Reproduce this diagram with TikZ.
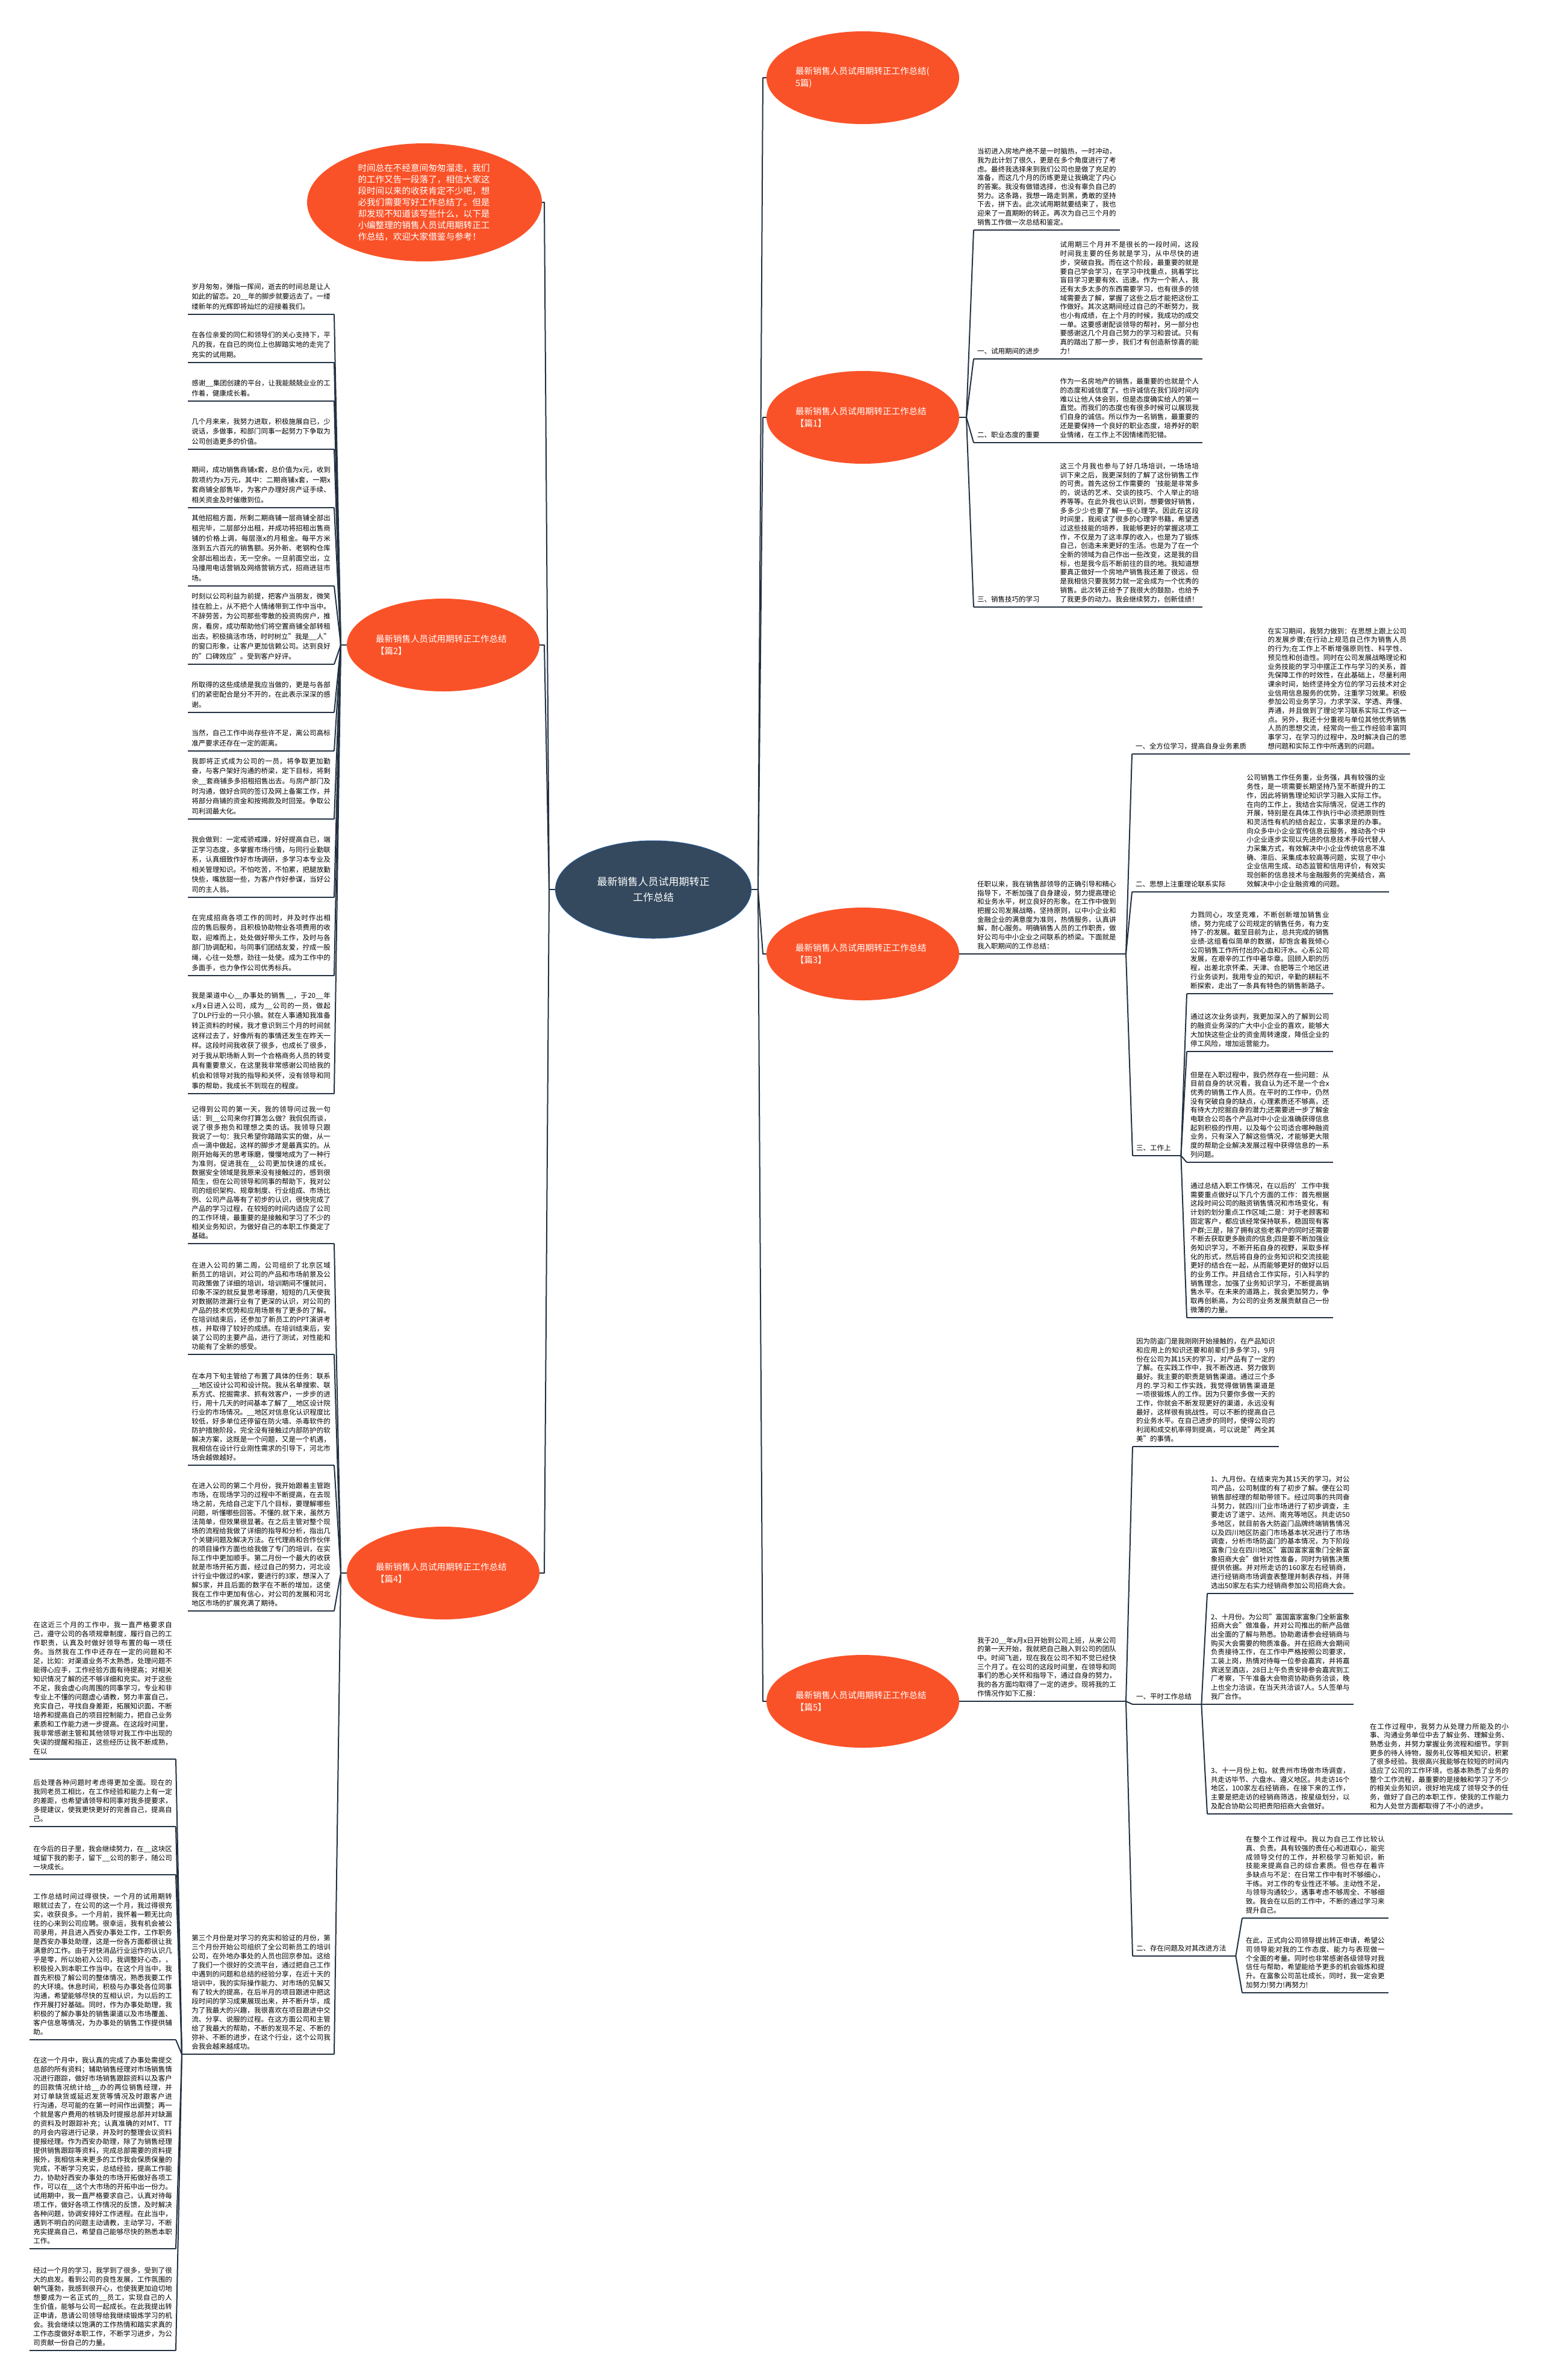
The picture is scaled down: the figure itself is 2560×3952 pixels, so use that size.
\documentclass[tikz,border=0pt]{standalone}
\usepackage{fontspec}
\setmainfont{Noto Sans CJK SC}
\XeTeXlinebreaklocale "zh"
\XeTeXlinebreakskip=0pt plus 1pt minus 0.62pt
\tolerance=3000
\usetikzlibrary{shapes.geometric}

\definecolor{petalorange}{RGB}{250,82,40}
\definecolor{rootslate}{RGB}{52,73,94}
\definecolor{rootrim}{RGB}{40,90,150}
\definecolor{wire}{RGB}{35,50,66}

\newcommand{\bodyfont}{\fontsize{11.5pt}{14.7pt}\selectfont}
\newcommand{\midfont}{\fontsize{11.5pt}{15pt}\selectfont}
\newcommand{\airyfont}{\fontsize{11.5pt}{16.6pt}\selectfont}
\newcommand{\petalfont}{\fontsize{14.5pt}{20pt}\selectfont}
\newcommand{\introfont}{\fontsize{14.6pt}{18.9pt}\selectfont}
\newcommand{\rootfont}{\fontsize{17pt}{25.7pt}\selectfont}
\newcommand{\kong}{\_\_}

\tikzset{
  link/.style={draw=wire,line width=2pt,line join=round},
  rule/.style={draw=wire,line width=2.2pt},
  para/.style={font=\bodyfont,text width=230.5pt,align=justify,inner xsep=6pt,inner ysep=7.5pt},
  sect/.style={font=\bodyfont,align=left,inner xsep=6pt,inner ysep=7.5pt},
}

\begin{document}
\begin{tikzpicture}[x=1pt,y=-1pt,
  rootnode/.style={ellipse,fill=rootslate,draw=rootrim,line width=1pt,text=white,
    minimum width=325pt,minimum height=162pt,inner sep=0pt,font=\rootfont,align=center},
  petal/.style={ellipse,fill=petalorange,text=white,minimum width=320pt,
    minimum height=154pt,inner sep=0pt,font=\petalfont,text width=224pt,align=left},
  lpara/.style={para,font=\airyfont},
  mpara/.style={para,font=\midfont}]

\fill[white] (0,0) rectangle (2560,3952);
\useasboundingbox (0,0) rectangle (2560,3952);

% centre and first ring
\node[rootnode] (root) at (1085,1477) {最新销售人员试用期转正\\工作总结};
\node[petal,minimum width=390pt,minimum height=196pt,text width=221pt,font=\introfont] (intro) at (705,336)
  {时间总在不经意间匆匆溜走，我们\\的工作又告一段落了，相信大家这\\段时间以来的收获肯定不少吧，想\\必我们需要写好工作总结了。但是\\却发现不知道该写些什么，以下是\\小编整理的销售人员试用期转正工\\作总结，欢迎大家借鉴与参考！};
\node[petal] (pianall) at (1433,129) {最新销售人员试用期转正工作总结(\\5篇)};
\node[petal] (pian1) at (1433,693) {最新销售人员试用期转正工作总结\\【篇1】};
\node[petal] (pian2) at (736,1071) {最新销售人员试用期转正工作总结\\【篇2】};
\node[petal] (pian3) at (1433,1584) {最新销售人员试用期转正工作总结\\【篇3】};
\node[petal] (pian4) at (736,2612) {最新销售人员试用期转正工作总结\\【篇4】};
\node[petal] (pian5) at (1433,2825) {最新销售人员试用期转正工作总结\\【篇5】};

\coordinate (lbus) at (912,1477);
\coordinate (rbus) at (1259,1477);
\draw[link] (root.west) -- (lbus);
\draw[link] (root.east) -- (rbus);
\foreach \k in {intro,pian2,pian4}
  \draw[link] (lbus) -- ([xshift=-8pt]lbus |- \k.east) -- (\k.east);
\foreach \k in {pianall,pian1,pian3,pian5}
  \draw[link] (rbus) -- ([xshift=8pt]rbus |- \k.west) -- (\k.west);

% pian 1
\node[para,anchor=south west] (b1i) at (1617,382) {当初进入房地产绝不是一时脑热，一时冲动，我为此计划了很久，更是在多个角度进行了考虑。最终我选择来到我们公司也是做了充足的准备，而这几个月的历练更是让我确定了内心的答案。我没有做错选择，也没有辜负自己的努力。这条路，我想一路走到黑，勇敢的坚持下去，拼下去。此次试用期就要结束了，我也迎来了一直期盼的转正。再次为自己三个月的销售工作做一次总结和鉴定。};
\node[sect,text width=125pt,anchor=south west] (t1a) at (1617,596) {一、试用期间的进步};
\node[para,anchor=south west] (b1a) at (t1a.south east) {试用期三个月并不是很长的一段时间，这段时间我主要的任务就是学习，从中尽快的进步，突破自我。而在这个阶段，最重要的就是要自己学会学习，在学习中找重点，挑着学比盲目学习更要有效、迅速。作为一个新人，我还有太多太多的东西需要学习，也有很多的领域需要去了解，掌握了这些之后才能把这份工作做好。其次这期间经过自己的不断努力，我也小有成绩，在上个月的时候，我成功的成交一单。这要感谢配谈领导的帮衬，另一部分也要感谢这几个月自己努力的学习和尝试。只有真的踏出了那一步，我们才有创造新惊喜的能力！};
\node[sect,text width=125pt,anchor=south west] (t1b) at (1617,735) {二、职业态度的重要};
\node[para,anchor=south west] (b1b) at (t1b.south east) {作为一名房地产的销售，最重要的也就是个人的态度和诚信度了。也许诚信在我们段时间内难以让他人体会到，但是态度确实给人的第一直觉。而我们的态度也有很多时候可以展现我们自身的诚信。所以作为一名销售，最重要的还是要保持一个良好的职业态度，培养好的职业情绪，在工作上不因情绪而犯错。};
\node[sect,text width=125pt,anchor=south west] (t1c) at (1617,1008) {三、销售技巧的学习};
\node[para,anchor=south west] (b1c) at (t1c.south east) {这三个月我也参与了好几场培训，一场场培训下来之后，我更深刻的了解了这份销售工作的可贵。首先这份工作需要的`技能是非常多的，说话的艺术、交谈的技巧、个人举止的培养等等。在此外我也认识到，想要做好销售，多多少少也要了解一些心理学。因此在这段时间里，我阅读了很多的心理学书籍，希望透过这些技能的培养，我能够更好的掌握这项工作，不仅是为了这丰厚的收入，也是为了锻炼自己，创造未来更好的生活。也是为了在一个全新的领域为自己作出一些改变，这是我的目标，也是我今后不断前往的目的地。我知道想要真正做好一个房地产销售我还差了很远，但是我相信只要我努力就一定会成为一个优秀的销售。此次转正给予了我很大的鼓励，也给予了我更多的动力。我会继续努力，创新佳绩！};
\coordinate (f1) at (1605,693);
\draw[link] (pian1.east) -- (f1);
\foreach \k in {b1i,t1a,t1b,t1c}
  \draw[link] (f1) -- (\k.south west);

% pian 3
\node[para,anchor=south west] (b3i) at (1617,1584) {任职以来，我在销售部领导的正确引导和精心指导下，不断加强了自身建设，努力提高理论和业务水平，树立良好的形象。在工作中做到把握公司发展战略，坚持原则，以中小企业和金融企业的满意度为准则，热情服务，认真讲解，耐心服务。明确销售人员的工作职责，做好公司与中小企业之间联系的桥梁。下面就是我入职期间的工作总结：};
\node[sect,text width=207pt,anchor=south west] (t3a) at (1880,1252) {一、全方位学习，提高自身业务素质};
\node[para,anchor=south west] (b3a) at (t3a.south east) {在实习期间，我努力做到：在思想上跟上公司的发展步骤;在行动上规范自己作为销售人员的行为;在工作上不断增强原则性、科学性、预见性和创造性。同时在公司发展战略理论和业务技能的学习中摆正工作与学习的关系，首先保障工作的时效性，在此基础上，尽量利用课余时间，始终坚持全方位的学习云技术对企业信用信息服务的优势，注重学习效果。积极参加公司业务学习，力求学深、学透、弄懂、弄通，并且做到了理论学习联系实际工作这一点。另外，我还十分重视与单位其他优秀销售人员的思想交流，经常向一些工作经验丰富同事学习，在学习的过程中，及时解决自己的思想问题和实际工作中所遇到的问题。};
\node[sect,text width=172pt,anchor=south west] (t3b) at (1880,1481) {二、思想上注重理论联系实际};
\node[para,anchor=south west] (b3b) at (t3b.south east) {公司销售工作任务重，业务强，具有较强的业务性，是一项需要长期坚持乃至不断提升的工作，因此将销售理论知识学习融入实际工作。在向的工作上，我结合实际情况，促进工作的开展，特别是在具体工作执行中必须把原则性和灵活性有机的结合起立，实事求是的办事。向众多中小企业宣传信息云服务，推动各个中小企业逐步实现以先进的信息技术手段代替人力采集方式，有效解决中小企业传统信息不准确、滞后、采集成本较高等问题，实现了中小企业信用生成、动态监管和信用评价，有效实现创新的信息技术与金融服务的完美结合，高效解决中小企业融资难的问题。};
\node[sect,text width=68pt,anchor=south west] (t3c) at (1881,1919) {三、工作上};
\node[para,anchor=south west] (c3a) at (1971,1650) {力戮同心，攻坚克难，不断创新增加销售业绩，努力完成了公司规定的销售任务，有力支持了-的发展。截至目前为止，总共完成的销售业绩-这组看似简单的数据，却饱含着我倾心公司销售工作所付出的心血和汗水。心系公司发展，在艰辛的工作中著华章。回顾入职的历程，出差北京怀柔、天津、合肥等三个地区进行业务谈判，我用专业的知识，辛勤的耕耘不断探索，走出了一条具有特色的销售新路子。};
\node[para,anchor=south west] (c3b) at (1971,1746) {通过这次业务谈判，我更加深入的了解到公司的融资业务深的广大中小企业的喜欢，能够大大加快这些企业的资金周转速度，降低企业的停工风险，增加运营能力。};
\node[para,anchor=south west] (c3c) at (1971,1930) {但是在入职过程中，我仍然存在一些问题：从目前自身的状况看，我自认为还不是一个合x优秀的销售工作人员。在平时的工作中，仍然没有突破自身的缺点，心理素质还不够高，还有待大力挖掘自身的潜力;还需要进一步了解金电联合公司各个产品对中小企业准确获得信息起到积极的作用，以及每个公司适合哪种融资业务，只有深入了解这些情况，才能够更大限度的帮助企业解决发展过程中获得信息的一系列问题。};
\node[para,anchor=south west] (c3d) at (1971,2188) {通过总结入职工作情况，在以后的'工作中我需要重点做好以下几个方面的工作：首先根据这段时间公司的融资销售情况和市场变化，有计划的划分重点工作区域;二是：对于老顾客和固定客户，都应该经常保持联系，稳固现有客户群;三是，除了拥有这些老客户的同时还需要不断去获取更多融资的信息;四是要不断加强业务知识学习，不断开拓自身的视野，采取多样化的形式，然后将自身的业务知识和交流技能更好的结合在一起，从而能够更好的做好以后的业务工作。并且结合工作实际，引入科学的销售理念，加强了业务知识学习，不断提高销售水平。在未来的道路上，我会更加努力，争取再创新高，为公司的业务发展贡献自己一份微薄的力量。};
\coordinate (f3) at (1870,1584);
\draw[link] (pian3.east) -- (b3i.south west);
\draw[link] (b3i.south east) -- (f3);
\foreach \k in {t3a,t3b,t3c}
  \draw[link] (f3) -- (\k.south west);
\foreach \k in {c3a,c3b,c3c,c3d}
  \draw[link] (t3c.south east) -- (\k.south west);

% pian 5
\node[para,anchor=south west] (b5i) at (1617,2825) {我于20\kong 年x月x日开始到公司上班，从来公司的第一天开始，我就把自己融入到公司的团队中。时间飞逝，现在我在公司不知不觉已经快三个月了。在公司的这段时间里，在领导和同事们的悉心关怀和指导下，通过自身的努力，我的各方面均取得了一定的进步。现将我的工作情况作如下汇报：};
\node[para,anchor=south west] (b5x) at (1881,2402) {因为防盗门是我刚刚开始接触的，在产品知识和应用上的知识还要和前辈们多多学习，9月份在公司为其15天的学习，对产品有了一定的了解。在实践工作中，我不断改进、努力做到最好。我主要的职责是销售渠道。通过三个多月的.学习和工作实践，我觉得做销售渠道是一项很锻炼人的工作。因为只要你多做一天的工作，你就会不断发现更好的渠道，永远没有最好，这样很有挑战性。可以不断的提高自己的业务水平。在自己进步的同时，使得公司的利润和成交机率得到提高，可以说是"两全其美"的事情。};
\node[sect,text width=102pt,anchor=south west] (t5a) at (1881,2830) {一、平时工作总结};
\node[para,anchor=south west] (d5a) at (2005,2646) {1、九月份。在结束完为其15天的学习。对公司产品，公司制度的有了初步了解。便在公司销售部经理的帮助带领下。经过同事的共同奋斗努力，就四川门业市场进行了初步调查，主要走访了遂宁、达州、南充等地区。共走访50多地区，就目前各大防盗门品牌终端销售情况以及四川地区防盗门市场基本状况进行了市场调查，分析市场防盗门的基本情况，为下阶段富象门业在四川地区"富国富家富象门全新富象招商大会"做针对性准备，同时为销售决策提供依据。并对所走访的160家左右经销商，进行经销商市场调查表整理并制表存档，并筛选出50家左右实力经销商参加公司招商大会。};
\node[para,anchor=south west] (d5b) at (2005,2830) {2、十月份。为公司"富国富家富象门全新富象招商大会"做准备，并对公司推出的新产品做出全面的了解与熟悉。协助邀请参会经销商与购买大会需要的物质准备。并在招商大会期间负责接待工作，在工作中严格按照公司要求，工装上岗，热情对待每一位参会嘉宾，并将嘉宾送至酒店，28日上午负责安排参会嘉宾到工厂考察，下午准备大会物资协助商务洽谈，晚上也全力洽谈，在当天共洽谈7人。5人签单与我厂合作。};
\node[para,anchor=south west] (d5c) at (2005,3012) {3、十一月份上旬。就贵州市场做市场调查，共走访毕节、六盘水、遵义地区。共走访16个地区，100家左右经销商，在接下来的工作，主要是把走访的经销商筛选，按星级划分，以及配合协助公司把贵阳招商大会做好。};
\node[para,anchor=south west] (d5x) at (2269,3012) {在工作过程中，我努力从处理力所能及的小事、沟通业务单位中去了解业务、理解业务、熟悉业务，并努力掌握业务流程和细节。学到更多的待人待物，服务礼仪等相关知识，积累了很多经验。我很高兴我能够在较短的时间内适应了公司的工作环境，也基本熟悉了业务的整个工作流程，最重要的是接触和学习了不少的相关业务知识，很好地完成了领导交予的任务，做好了自己的本职工作，使我的工作能力和为人处世方面都取得了不小的进步。};
\node[sect,text width=159pt,anchor=south west] (t5b) at (1881,3248) {二、存在问题及对其改进方法};
\node[para,anchor=south west] (e5a) at (2063,3185) {在整个工作过程中。我以为自己工作比较认真、负责。具有较强的责任心和进取心，能完成领导交付的工作，并积极学习新知识，新技能来提高自己的综合素质。但也存在着许多缺点与不足：在日常工作中有时不够细心，干练。对工作的专业性还不够。主动性不足，与领导沟通较少，遇事考虑不够周全、不够细致。我会在以后的工作中，不断的通过学习来提升自己。};
\node[para,anchor=south west] (e5b) at (2063,3309) {在此，正式向公司领导提出转正申请，希望公司领导能对我的工作态度、能力与表现做一个全面的考量。同时也非常感谢各级领导对我信任与帮助，希望能给予更多的机会锻炼和提升。在富象公司茁壮成长，同时，我一定会更加努力!努力!再努力!};
\coordinate (f5) at (1870,2825);
\draw[link] (pian5.east) -- (b5i.south west);
\draw[link] (b5i.south east) -- (f5);
\foreach \k in {b5x,t5a,t5b}
  \draw[link] (f5) -- (\k.south west);
\foreach \k in {d5a,d5b,d5c}
  \draw[link] (t5a.south east) -- (\k.south west);
\draw[link] (d5c.south east) -- (d5x.south west);
\foreach \k in {e5a,e5b}
  \draw[link] (t5b.south east) -- (\k.south west);

% pian 2
\node[lpara,anchor=south east] (q2a) at (555,522) {岁月匆匆，弹指一挥间，逝去的时间总是让人如此的留恋。20\kong 年的脚步就要远去了。一缕缕新年的光辉即将灿烂的迎接着我们。};
\node[lpara,anchor=south east] (q2b) at (555,602) {在各位亲爱的同仁和领导们的关心支持下，平凡的我，在自已的岗位上也脚踏实地的走完了充实的试用期。};
\node[lpara,anchor=south east] (q2c) at (555,666) {感谢\kong 集团创建的平台，让我能兢兢业业的工作着，健康成长着。};
\node[lpara,anchor=south east] (q2d) at (555,746) {几个月来来，我努力进取，积极施展自已，少说话，多做事，和部门同事一起努力下争取为公司创造更多的价值。};
\node[lpara,anchor=south east] (q2e) at (555,843) {期间，成功销售商铺x套，总价值为x元，收到款项约为x万元，其中：二期商铺x套，一期x套商铺全部售毕，为客户办理好房产证手续、相关资金及时催缴到位。};
\node[lpara,anchor=south east] (q2f) at (555,973) {其他招租方面，所剩二期商铺一层商铺全部出租完毕，二层部分出租，并成功将招租出售商铺的价格上调，每层涨x的月租金。每平方米涨到五六百元的销售额。另外新、老钢构仓库全部出租出去，无一空余。一旦前面空出，立马撞用电话营销及网络营销方式，招商进驻市场。};
\node[lpara,anchor=south east] (q2g) at (555,1103) {时刻以公司利益为前提，把客户当朋友，微笑挂在脸上，从不把个人情绪带到工作中当中。不辞劳苦，为公司那些零散的投资购房户，推房，看房，成功帮助他们将空置商铺全部转租出去。积极搞活市场，时时树立"我是\kong 人"的窗口形象，让客户更加信赖公司。达到良好的"口碑效应"。受到客户好评。};
\node[lpara,anchor=south east] (q2h) at (555,1183) {所取得的这些成绩是我应当做的，更是与各部们的紧密配合是分不开的，在此表示深深的感谢。};
\node[lpara,anchor=south east] (q2i) at (555,1247) {当然，自己工作中尚存些许不足，离公司高标准严要求还存在一定的距离。};
\node[lpara,anchor=south east] (q2j) at (555,1360) {我即将正式成为公司的一员，将争取更加勤奋，与客户架好沟通的桥梁，定下目标，将剩余\kong 套商铺多多招租招售出去。与房产部门及时沟通，做好合同的签订及网上备案工作，并将部分商铺的资金和按揭款及时回笼。争取公司利润最大化。};
\node[lpara,anchor=south east] (q2k) at (555,1490) {我会做到：一定戒骄戒躁，好好提高自已，端正学习态度，多掌握市场行情，与同行业勤联系，认真细致作好市场调研，多学习本专业及相关管理知识。不怕吃苦，不怕累，把腿放勤快些，嘴放甜一些，为客户作好参谋，当好公司的主人翁。};
\node[lpara,anchor=south east] (q2l) at (555,1620) {在完成招商各项工作的同时，并及时作出相应的售后服务，且积极协助物业各项费用的收取，迎难而上，处处做好带头工作，及时与各部门协调配和，与同事们团结友爱，拧成一股绳，心往一处想，劲往一处使。成为工作中的多面手，也力争作公司优秀标兵。};
\node[lpara,anchor=south east] (q2m) at (555,1816) {我是渠道中心\kong 办事处的销售\kong ，于20\kong 年x月x日进入公司，成为\kong 公司的一员，做起了DLP行业的一只小狼。就在人事通知我准备转正资料的时候，我才意识到三个月的时间就这样过去了，好像所有的事情还发生在昨天一样。这段时间我收获了很多，也成长了很多，对于我从职场新人到一个合格商务人员的转变具有重要意义，在这里我非常感谢公司给我的机会和领导对我的指导和关怀，没有领导和同事的帮助，我成长不到现在的程度。};
\coordinate (f2) at (566,1071);
\draw[link] (pian2.west) -- (f2);
\foreach \k in {q2a,q2b,q2c,q2d,q2e,q2f,q2g,q2h,q2i,q2j,q2k,q2l,q2m}
  \draw[link] (f2) -- (\k.south east);

% pian 4
\node[mpara,anchor=south east] (q4a) at (555,2065) {记得到公司的第一天，我的领导问过我一句话：到\kong 公司来你打算怎么做？我侃侃而谈，说了很多抱负和理想之类的话。我领导只跟我说了一句：我只希望你踏踏实实的做，从一点一滴中做起，这样的脚步才是最真实的。从刚开始每天的思考琢磨，慢慢地成为了一种行为准则，促进我在\kong 公司更加快速的成长。数据安全领域是我原来没有接触过的，感到很陌生，但在公司领导和同事的帮助下，我对公司的组织架构、规章制度、行业组成、市场比例、公司产品等有了初步的认识，很快完成了产品的学习过程，在较短的时间内适应了公司的工作环境，最重要的是接触和学习了不少的相关业务知识，为做好自己的本职工作奠定了基础。};
\node[mpara,anchor=south east] (q4b) at (555,2249) {在进入公司的第二周，公司组织了北京区域新员工的培训，对公司的产品和市场前景及公司政策做了详细的培训，培训期间不懂就问，印象不深的就反复思考琢磨，短短的几天使我对数据防泄漏行业有了更深的认识，对公司的产品的技术优势和应用场景有了更多的了解。在培训结束后，还参加了新员工的PPT演讲考核，并取得了较好的成绩。在培训结束后，安装了公司的主要产品，进行了测试，对性能和功能有了全新的感受。};
\node[mpara,anchor=south east] (q4c) at (555,2433) {在本月下旬主管给了布置了具体的任务：联系\kong 地区设计公司和设计院。我从名单搜索、联系方式、挖掘需求、抓有效客户，一步步的进行，用十几天的时间基本了解了\kong 地区设计院行业的市场情况。\kong 地区对信息化认识程度比较低，好多单位还停留在防火墙、杀毒软件的防护措施阶段，完全没有接触过内部防护的软解决方案，这既是一个问题，又是一个机遇，我相信在设计行业刚性需求的引导下，河北市场会越做越好。};
\node[mpara,anchor=south east] (q4d) at (555,2675) {在进入公司的第二个月份，我开始跟着主管跑市场，在现场学习的过程中不断提高，在去现场之前，先给自己定下几个目标，要理解哪些问题，听懂哪些回答。不懂的.就下来，虽然方法简单，但效果很显著。在之后主管对整个现场的流程给我做了详细的指导和分析，指出几个关键问题及解决方法。在代理商和合作伙伴的项目操作方面也给我做了专门的培训，在实际工作中更加顺手。第二月份一个最大的收获就是市场开拓方面，经过自己的努力，河北设计行业中做过的4家，要进行的3家，想深入了解5家，并且后面的数字在不断的增加，这使我在工作中更加有信心，对公司的发展和河北地区市场的扩展充满了期待。};
\node[mpara,anchor=south east] (q4e) at (555,3411) {第三个月份是对学习的充实和验证的月份，第三个月份开始公司组织了全公司新员工的培训公司，在外地办事处的人员也回京参加。这给了我们一个很好的交流平台，通过把自己工作中遇到的问题和总结的经验分享，在近十天的培训中，我的实际操作能力、对市场的见解又有了较大的提高，在后半月的项目跟进中把这段时间的学习成果展现出来，并不断升华，成为了我最大的兴趣，我很喜欢在项目跟进中交流、分享、说服的过程。在这方面公司和主管给了我最大的帮助，不断的发现不足、不断的弥补、不断的进步，在这个行业，这个公司我会我会越来越成功。};
\coordinate (f4) at (566,2612);
\draw[link] (pian4.west) -- (f4);
\foreach \k in {q4a,q4b,q4c,q4d,q4e}
  \draw[link] (f4) -- (\k.south east);

% children of the third-month block
\node[mpara,anchor=south east] (r4a) at (292,2921) {在这近三个月的工作中，我一直严格要求自己，遵守公司的各项规章制度，履行自己的工作职责，认真及时做好领导布置的每一项任务。当然我在工作中还存在一定的问题和不足，比如：对渠道业务不太熟悉，处理问题不能得心应手，工作经验方面有待提高；对相关知识情况了解的还不够详细和充实。对于这些不足，我会虚心向周围的同事学习，专业和非专业上不懂的问题虚心请教，努力丰富自己，充实自己，寻找自身差距，拓展知识面，不断培养和提高自己的项目控制能力，把自己业务素质和工作能力进一步提高。在这段时间里，我非常感谢主管和其他领导对我工作中出现的失误的提醒和指正，这些经历让我不断成熟，在以};
\node[mpara,anchor=south east] (r4b) at (292,3033) {后处理各种问题时考虑得更加全面。现在的我同老员工相比，在工作经验和能力上有一定的差距，也希望请领导和同事对我多提要求，多提建议，使我更快更好的完善自己，提高自己。};
\node[mpara,anchor=south east] (r4c) at (292,3113) {在今后的日子里，我会继续努力，在\kong 这块区域留下我的影子，留下\kong 公司的影子，随公司一块成长。};
\node[mpara,anchor=south east] (r4d) at (292,3387) {工作总结时间过得很快，一个月的试用期转眼就过去了，在公司的这一个月，我过得很充实，收获良多。一个月前，我怀着一颗无比向往的心来到公司应聘。很幸运，我有机会被公司录用，并且进入西安办事处工作，工作职务是西安办事处助理，这是一份各方面都很让我满意的工作。由于对快消品行业运作的认识几乎是零，所以始初入公司，我调整好心态，，积极投入到本职工作当中。在这个月当中，我首先积极了解公司的整体情况，熟悉我要工作的大环境。休息时间，积极与办事处各位同事沟通，希望能够尽快的互相认识，为以后的工作开展打好基础。同时，作为办事处助理，我积极的了解办事处的销售渠道以及市场覆盖、客户信息等情况，为办事处的销售工作提供辅助。};
\node[mpara,anchor=south east] (r4e) at (292,3734) {在这一个月中，我认真的完成了办事处需提交总部的所有资料；辅助销售经理对市场销售情况进行跟踪，做好市场销售跟踪资料以及客户的回款情况统计给\kong 办的两位销售经理，并对订单缺货或延迟发货等情况及时跟客户进行沟通，尽可能的在第一时间作出调整；再一个就是客户费用的核销及时提报总部并对缺漏的资料及时跟踪补充；认真准确的对MT、TT的月会内容进行记录，并及时的整理会议资料提报经理。作为西安办助理，除了为销售经理提供销售跟踪等资料，完成总部需要的资料提报外，我相信未来更多的工作我会保质保量的完成，不断学习充实，总结经验，提高工作能力，协助好西安办事处的市场开拓做好各项工作，可以在\kong 这个大市场的开拓中出一份力。试用期中，我一直严格要求自己，认真对待每项工作，做好各项工作情况的反馈，及时解决各种问题，协调安排好工作进程。在此当中，遇到不明白的问题主动请教，主动学习，不断充实提高自己，希望自己能够尽快的熟悉本职工作。};
\node[mpara,anchor=south east] (r4f) at (292,3903) {经过一个月的学习，我学到了很多，受到了很大的启发。看到公司的良性发展，工作氛围的朝气蓬勃，我感到很开心，也使我更加迫切地想要成为一名正式的\kong 员工，实现自己的人生价值，能够与公司一起成长。在此我提出转正申请，恳请公司领导给我继续锻炼学习的机会。我会继续以饱满的工作热情和踏实求真的工作态度做好本职工作，不断学习进步，为公司贡献一份自己的力量。};
\coordinate (f4e) at (302,3411);
\draw[link] (q4e.south west) -- (f4e);
\foreach \k in {r4a,r4b,r4c,r4d,r4e,r4f}
  \draw[link] (f4e) -- (\k.south east);

% underlines under every text block
\foreach \k in {b1i,t1a,b1a,t1b,b1b,t1c,b1c,b3i,t3a,b3a,t3b,b3b,t3c,c3a,c3b,c3c,c3d,
    b5i,b5x,t5a,d5a,d5b,d5c,d5x,t5b,e5a,e5b,
    q2a,q2b,q2c,q2d,q2e,q2f,q2g,q2h,q2i,q2j,q2k,q2l,q2m,
    q4a,q4b,q4c,q4d,q4e,r4a,r4b,r4c,r4d,r4e,r4f}
  \draw[rule] (\k.south west) -- (\k.south east);
\end{tikzpicture}
\end{document}
